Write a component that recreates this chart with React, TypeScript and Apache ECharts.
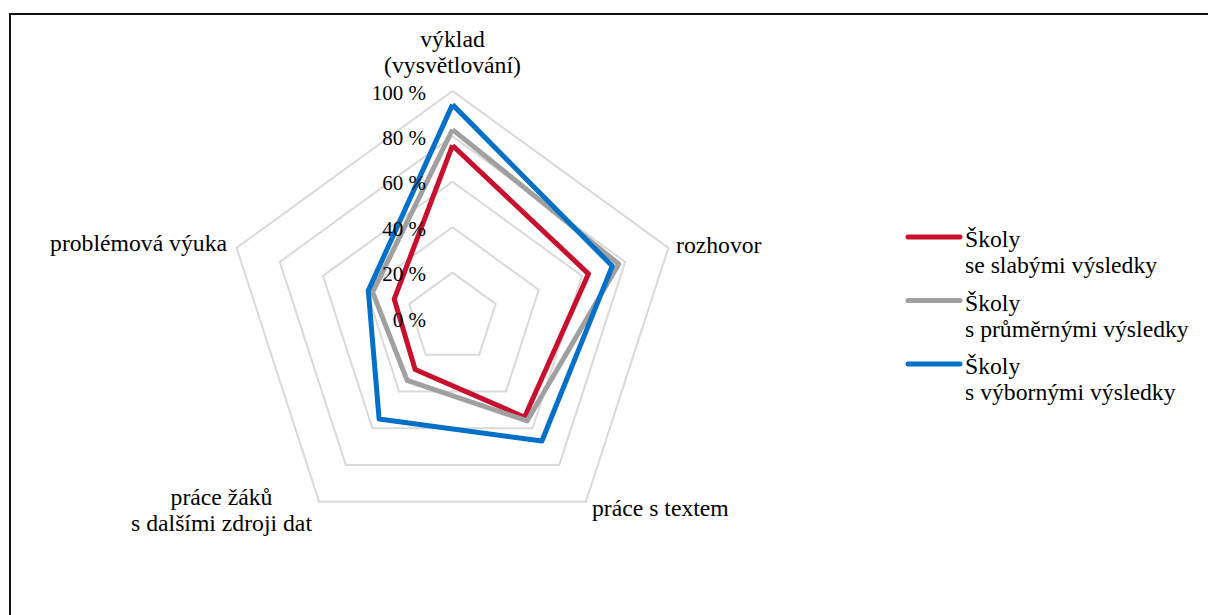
import React, { useEffect, useRef } from "react";
import * as echarts from "echarts";

const indicatorNames = [
  "výklad\n(vysvětlování)",
  "problémová výuka",
  "práce žáků\ns dalšími zdroji dat",
  "práce s textem",
  "rozhovor",
];
const tickValues = [0, 20, 40, 60, 80, 100];
const seriesNames = [
  "Školy\nse slabými výsledky",
  "Školy\ns průměrnými výsledky",
  "Školy\ns výbornými výsledky",
];
const weakSchools = [76, 27, 28, 54, 63];
const averageSchools = [83, 37, 34, 56, 77];
const excellentSchools = [94, 39, 55, 67, 74];

const colors = ["#C8102E", "#A0A0A0", "#0070C8"];
const FONT = "Liberation Serif";
const CX = 452.5;
const CY = 318;
const R = 227;

// name label placements (position, alignment)
const namePlacement = [
  { x: 452.5, y: 52, align: "center" },
  { x: 227, y: 243, align: "right" },
  { x: 221.5, y: 510, align: "center" },
  { x: 592, y: 508, align: "left" },
  { x: 676, y: 244.5, align: "left" },
];

export default function App() {
  const ref = useRef<HTMLDivElement>(null);
  useEffect(() => {
    if (!ref.current) return;
    const chart = echarts.init(ref.current, null, { renderer: "svg" });
    const values = [weakSchools, averageSchools, excellentSchools];

    const graphics: any[] = [];
    graphics.push({
      type: "polyline",
      shape: { points: [[10, 640], [10, 14], [1230, 14]] },
      style: { stroke: "#111", lineWidth: 2, fill: null },
      silent: true,
    });
    tickValues.forEach((v) => {
      graphics.push({
        type: "text",
        x: 426,
        y: CY - (v / 100) * R + 1.5,
        style: {
          text: `${v} %`,
          fontSize: 21,
          fontFamily: FONT,
          fill: "#000",
          textAlign: "right",
          textVerticalAlign: "middle",
        },
        z: 10,
      });
    });
    indicatorNames.forEach((n, i) => {
      const p = namePlacement[i];
      graphics.push({
        type: "text",
        x: p.x,
        y: p.y,
        style: {
          text: n,
          fontSize: 23.7,
          fontFamily: FONT,
          fill: "#000",
          textAlign: p.align,
          textVerticalAlign: "middle",
          lineHeight: 26,
        },
      });
    });
    seriesNames.forEach((n, i) => {
      const y0 = 239 + 63.5 * i;
      graphics.push({
        type: "line",
        shape: { x1: 908, y1: y0 - 2, x2: 960, y2: y0 - 2 },
        style: { stroke: colors[i], lineWidth: 5, lineCap: "round" },
      });
      graphics.push({
        type: "text",
        x: 965,
        y: y0 - 13,
        style: {
          text: n,
          fontSize: 23.7,
          fontFamily: FONT,
          fill: "#000",
          textAlign: "left",
          textVerticalAlign: "top",
          lineHeight: 26,
        },
      });
    });

    chart.setOption({
      animation: false,
      backgroundColor: "#fff",
      radar: {
        center: [CX, CY],
        radius: R,
        startAngle: 90,
        shape: "polygon",
        splitNumber: 5,
        indicator: indicatorNames.map((n) => ({ name: n, min: 0, max: 100 })),
        axisName: { show: false },
        axisLine: { show: false },
        axisTick: { show: false },
        axisLabel: { show: false },
        splitArea: { show: false },
        splitLine: { lineStyle: { color: "#D9D9D9", width: 2 } },
      },
      series: [
        {
          type: "radar",
          symbol: "none",
          data: values.map((v, i) => ({
            name: seriesNames[i],
            value: v,
            lineStyle: { color: colors[i], width: 5 },
            itemStyle: { color: colors[i] },
            z: i,
          })),
        },
      ],
      graphic: graphics,
    });
    return () => chart.dispose();
  }, []);
  return (
    <div
      ref={ref}
      style={{ position: "fixed", left: 0, top: 0, width: 1208, height: 615 }}
    />
  );
}
